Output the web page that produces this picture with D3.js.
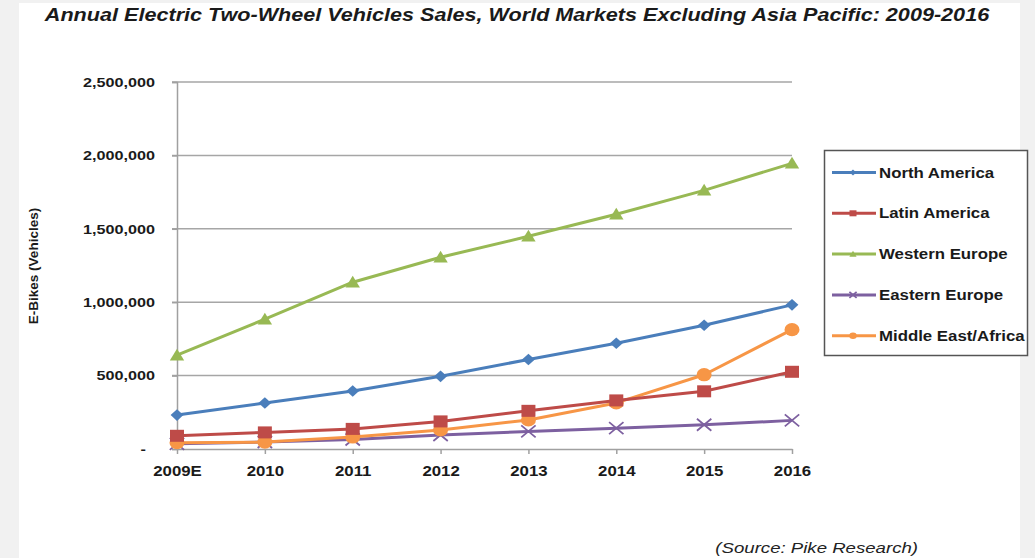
<!DOCTYPE html>
<html>
<head>
<meta charset="utf-8">
<script src="https://cdn.jsdelivr.net/npm/d3@7/dist/d3.min.js"></script>
<style>
  html, body { margin: 0; padding: 0; background: #f1f1f1; }
  svg { display: block; font-family: "Liberation Sans", Arial, sans-serif; }
</style>
</head>
<body>
<svg id="chart" width="1035" height="558"></svg>
<script>
// Years on the horizontal axis
const years = ["2009E", "2010", "2011", "2012", "2013", "2014", "2015", "2016"];

// Annual sales by region (vehicles)
const northAmerica   = [231000, 313000, 395000, 495000, 610000, 720000, 843000, 982000];
const latinAmerica   = [90000, 113000, 137000, 188000, 260000, 331000, 393000, 526000];
const westernEurope  = [639000, 884000, 1136000, 1306000, 1449000, 1599000, 1762000, 1946000];
const easternEurope  = [35000, 48000, 65000, 95000, 120000, 142000, 165000, 195000];
const middleEastAfrica = [43000, 47000, 82000, 130000, 198000, 314000, 506000, 813000];

const seriesNames = ["North America", "Latin America", "Western Europe", "Eastern Europe", "Middle East/Africa"];
const yTicks = [0, 500000, 1000000, 1500000, 2000000, 2500000];

const series = [
  { name: seriesNames[0], values: northAmerica,     color: "#4a7ebb", marker: "diamond" },
  { name: seriesNames[1], values: latinAmerica,     color: "#be4b48", marker: "square" },
  { name: seriesNames[2], values: westernEurope,    color: "#98b954", marker: "triangle" },
  { name: seriesNames[3], values: easternEurope,    color: "#7d60a0", marker: "cross" },
  { name: seriesNames[4], values: middleEastAfrica, color: "#f79646", marker: "circle" }
];

// text in this sheet is set slightly wide
const WIDE = 1.2;
function widen(sel) {
  sel.each(function () {
    const w = this.getComputedTextLength();
    if (w > 0) {
      this.setAttribute("textLength", w * WIDE);
      this.setAttribute("lengthAdjust", "spacingAndGlyphs");
    }
  });
}

const svg = d3.select("#chart");

// white sheet behind the chart
svg.append("rect").attr("x", 19).attr("y", 3).attr("width", 1001).attr("height", 555).attr("fill", "#ffffff");

const plotLeft = 177, plotRight = 792, plotTop = 82, plotBottom = 449;

const x = d3.scalePoint().domain(years).range([plotLeft, plotRight]).padding(0);
const y = d3.scaleLinear().domain([0, 2500000]).range([plotBottom, plotTop]);

// Title
svg.append("text")
  .attr("x", 517).attr("y", 21)
  .attr("text-anchor", "middle")
  .attr("font-size", 18).attr("font-weight", "bold").attr("font-style", "italic")
  .attr("fill", "#1a1a1a")
  .text("Annual Electric Two-Wheel Vehicles Sales, World Markets Excluding Asia Pacific: 2009-2016")
  .call(widen);

// Horizontal gridlines
svg.append("g")
  .selectAll("line")
  .data(yTicks.filter(d => d > 0))
  .join("line")
  .attr("x1", plotLeft - 5).attr("x2", plotRight)
  .attr("y1", d => y(d)).attr("y2", d => y(d))
  .attr("stroke", "#a6a6a6").attr("stroke-width", 1.5);

// Y axis
const yAxis = d3.axisLeft(y)
  .tickValues(yTicks)
  .tickSize(5)
  .tickFormat(d => d === 0 ? "-" : d3.format(",")(d));
const gy = svg.append("g").attr("transform", `translate(${plotLeft},0)`).call(yAxis);
gy.select(".domain").attr("stroke", "#a0a0a0").attr("stroke-width", 1.5);
gy.selectAll(".tick line").attr("stroke", "#a0a0a0").attr("stroke-width", 1.5);
gy.selectAll(".tick text")
  .attr("x", -22)
  .attr("font-size", 13.5).attr("font-weight", "bold").attr("fill", "#1a1a1a")
  .attr("font-family", "Liberation Sans, Arial, sans-serif")
  .call(widen);
gy.selectAll(".tick").filter(d => d === 0).select("text").attr("x", -31);

// X axis
const xAxis = d3.axisBottom(x).tickSize(5).tickSizeOuter(0);
const gx = svg.append("g").attr("transform", `translate(0,${plotBottom})`).call(xAxis);
gx.select(".domain").attr("stroke", "#a0a0a0").attr("stroke-width", 1.5);
gx.selectAll(".tick line").attr("stroke", "#a0a0a0").attr("stroke-width", 1.5);
gx.selectAll(".tick text")
  .attr("y", 17)
  .attr("font-size", 14).attr("font-weight", "bold").attr("fill", "#1a1a1a")
  .attr("font-family", "Liberation Sans, Arial, sans-serif")
  .call(widen);

// Y axis title
svg.append("text")
  .attr("transform", "translate(38,266) rotate(-90)")
  .attr("text-anchor", "middle")
  .attr("font-size", 13.5).attr("font-weight", "bold").attr("fill", "#1a1a1a")
  .text("E-Bikes (Vehicles)");

// Marker shapes (drawn a touch wider than tall)
function drawMarker(g, type, color, cx, cy, scale) {
  const s = scale || 1;
  if (type === "diamond") {
    const rx = 6.4 * s, ry = 5.8 * s;
    g.append("path").attr("d", `M${cx},${cy - ry}L${cx + rx},${cy}L${cx},${cy + ry}L${cx - rx},${cy}Z`).attr("fill", color);
  } else if (type === "square") {
    const hx = 7 * s, hy = 6 * s;
    g.append("rect").attr("x", cx - hx).attr("y", cy - hy).attr("width", 2 * hx).attr("height", 2 * hy).attr("fill", color);
  } else if (type === "triangle") {
    const hx = 7.2 * s, hy = 6.5 * s;
    g.append("path").attr("d", `M${cx},${cy - hy}L${cx + hx},${cy + hy * 0.8}L${cx - hx},${cy + hy * 0.8}Z`).attr("fill", color);
  } else if (type === "cross") {
    const hx = 7.2 * s, hy = 6 * s;
    g.append("path").attr("d", `M${cx - hx},${cy - hy}L${cx + hx},${cy + hy}M${cx - hx},${cy + hy}L${cx + hx},${cy - hy}`)
      .attr("stroke", color).attr("stroke-width", 1.8).attr("fill", "none");
  } else {
    g.append("ellipse").attr("cx", cx).attr("cy", cy).attr("rx", 7.5 * s).attr("ry", 6.6 * s).attr("fill", color);
  }
}

const line = d3.line().x((d, i) => x(years[i])).y(d => y(d));

// Lines and markers, drawn bottom series first so the top ones overlay
const drawOrder = [3, 4, 1, 0, 2];
drawOrder.forEach(k => {
  const s = series[k];
  const g = svg.append("g");
  g.append("path")
    .attr("d", line(s.values))
    .attr("fill", "none").attr("stroke", s.color).attr("stroke-width", 3)
    .attr("stroke-linejoin", "round");
  s.values.forEach((v, i) => drawMarker(g, s.marker, s.color, x(years[i]), y(v)));
});

// Legend
const legend = svg.append("g");
legend.append("rect")
  .attr("x", 824.5).attr("y", 150.5).attr("width", 203).attr("height", 205)
  .attr("fill", "#ffffff").attr("stroke", "#555555").attr("stroke-width", 1.5);
series.forEach((s, i) => {
  const ly = 172.5 + i * 40.8;
  legend.append("line").attr("x1", 832).attr("x2", 876).attr("y1", ly).attr("y2", ly)
    .attr("stroke", s.color).attr("stroke-width", 3);
  drawMarker(legend, s.marker, s.color, 853, ly, 0.5);
  legend.append("text")
    .attr("x", 879).attr("y", ly + 5)
    .attr("font-size", 14).attr("font-weight", "bold").attr("fill", "#1a1a1a")
    .text(s.name)
    .call(widen);
});

// Source note
svg.append("text")
  .attr("x", 918).attr("y", 553)
  .attr("text-anchor", "end")
  .attr("font-size", 15.5).attr("font-style", "italic").attr("fill", "#222222")
  .text("(Source: Pike Research)")
  .call(widen);
</script>
</body>
</html>
